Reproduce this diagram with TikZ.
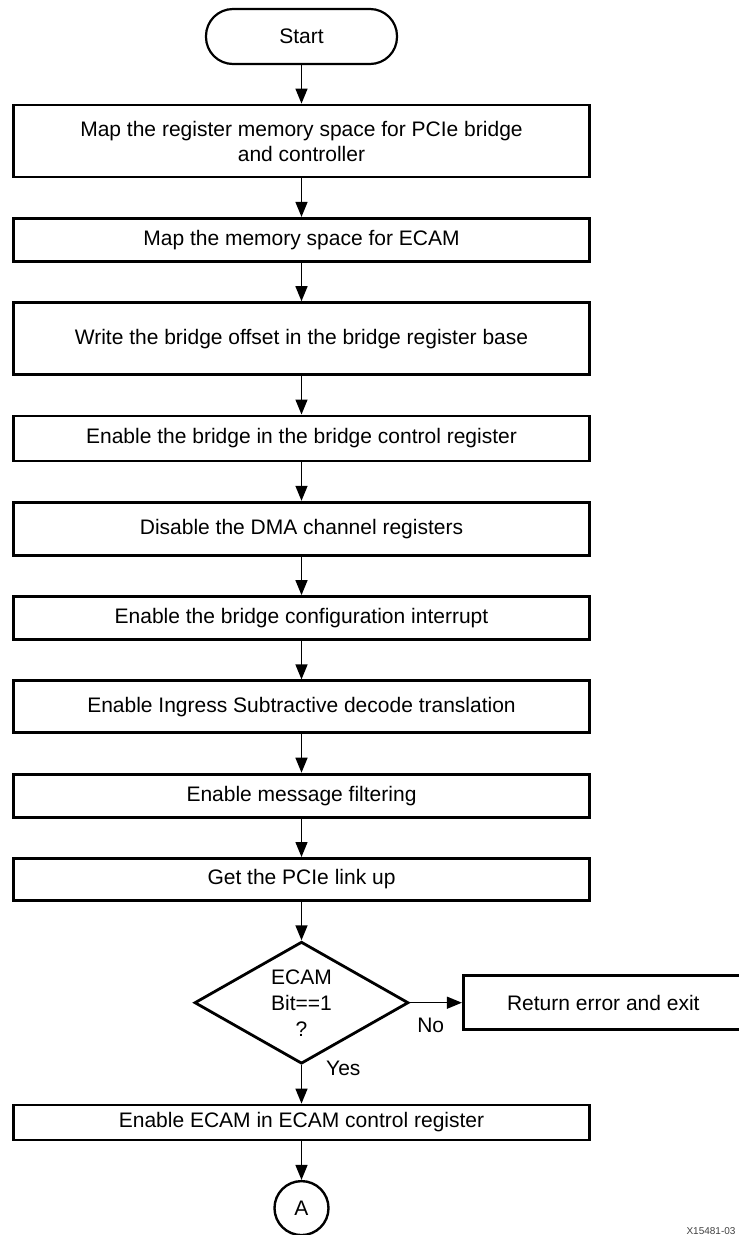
\documentclass[tikz,border=0pt]{standalone}
\usepackage{fontspec}
\setmainfont{Liberation Sans}
\usetikzlibrary{shapes.geometric, arrows.meta, positioning}

\begin{document}
\begin{tikzpicture}[
        x=1pt, y=-1pt,
        node distance=38.5pt and 52pt,
        terminal/.style={rectangle, draw, line width=2.2pt, rounded corners=27pt, minimum width=191pt, minimum height=55pt, font=\fontsize{21}{25}\selectfont},
        process/.style={rectangle, draw, line width=2.8pt, minimum width=576pt, minimum height=43pt, inner sep=0pt, align=center, font=\fontsize{21}{25}\selectfont},
        decision/.style={diamond, draw, line width=2.8pt, aspect=1.74, minimum width=214pt, minimum height=122pt, inner sep=0pt, align=center, font=\fontsize{21}{26}\selectfont},
        connector/.style={circle, draw, line width=2.4pt, minimum size=54pt, inner sep=0pt, font=\fontsize{21}{25}\selectfont},
        answer/.style={font=\fontsize{21}{25}\selectfont, inner sep=0pt},
        line/.style={draw, line width=1.4pt, -{Triangle[length=15pt, width=12pt]}}
    ]
        \useasboundingbox (0,0) rectangle (739,1235);

        % Start
        \node[terminal] (start) at (301.5, 36.5) {Start};

        % Bridge setup steps
        \node[process, below=of start, minimum height=72pt] (mapbridge) {Map the register memory space for PCIe bridge\\and controller};
        \node[process, below=of mapbridge] (mapecam) {Map the memory space for ECAM};
        \node[process, below=of mapecam, minimum height=72pt] (offset) {Write the bridge offset in the bridge register base};
        \node[process, below=of offset, minimum height=45pt] (bridgeen) {Enable the bridge in the bridge control register};
        \node[process, below=of bridgeen, minimum height=53pt] (dmaoff) {Disable the DMA channel registers};
        \node[process, below=of dmaoff] (cfgint) {Enable the bridge configuration interrupt};
        \node[process, below=of cfgint, minimum height=52pt] (ingress) {Enable Ingress Subtractive decode translation};
        \node[process, below=of ingress] (msgfilt) {Enable message filtering};
        \node[process, below=of msgfilt, minimum height=42pt] (linkup) {Get the PCIe link up};

        \draw[line] (start) -- (mapbridge);
        \draw[line] (mapbridge) -- (mapecam);
        \draw[line] (mapecam) -- (offset);
        \draw[line] (offset) -- (bridgeen);
        \draw[line] (bridgeen) -- (dmaoff);
        \draw[line] (dmaoff) -- (cfgint);
        \draw[line] (cfgint) -- (ingress);
        \draw[line] (ingress) -- (msgfilt);
        \draw[line] (msgfilt) -- (linkup);

        % ECAM check
        \node[decision, below=of linkup] (ecambit) {ECAM\\Bit==1\\?};
        \node[process, right=of ecambit, minimum width=280pt, minimum height=54pt] (error) {Return error and exit};
        \node[process, below=of ecambit, minimum height=35pt] (ecamen) {Enable ECAM in ECAM control register};
        \node[connector, below=of ecamen] (offpage) {A};

        \draw[line] (linkup) -- (ecambit);
        \draw[line] (ecambit) -- node[answer, below=15pt, pos=0.4] {No} (error);
        \draw[line] (ecambit) -- node[answer, right=24pt, pos=0.08] {Yes} (ecamen);
        \draw[line] (ecamen) -- (offpage);

        \node[anchor=base west, font=\fontsize{10}{12}\selectfont, text=black!75] (figid) at (683, 1234) {X15481-03};
    \end{tikzpicture}
\end{document}
